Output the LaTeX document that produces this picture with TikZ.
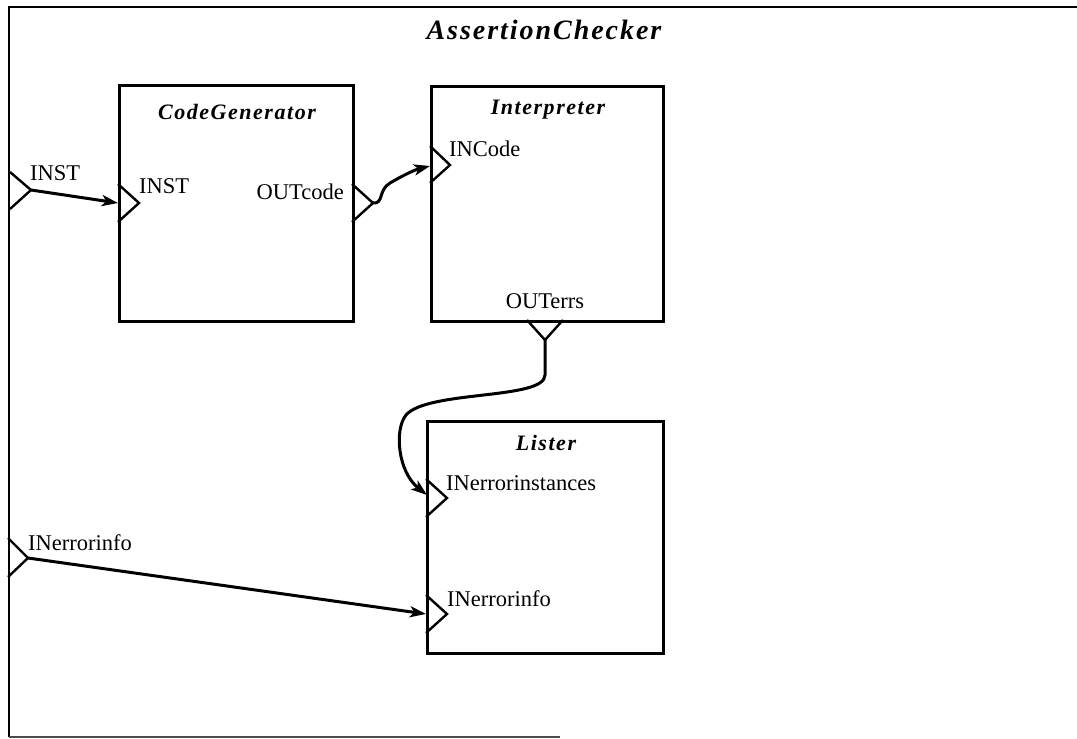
\documentclass[tikz,border=0pt]{standalone}
\usepackage{fontspec}
\setmainfont{Liberation Serif}
\usetikzlibrary{arrows.meta}
\begin{document}
\begin{tikzpicture}[x=1pt,y=-1pt,
  block/.style={draw, line width=2.9pt, inner sep=0pt, anchor=north west},
  port/.style={line width=2.4pt, line join=miter},
  wire/.style={line width=3pt, -{Stealth[length=16pt,width=11pt,inset=4pt]}},
  lbl/.style={font=\fontsize{22.5}{26}\selectfont, inner sep=0pt},
  ttl/.style={font=\fontsize{22}{26}\selectfont\bfseries\itshape\addfontfeature{LetterSpace=7}, inner sep=0pt},
  bigttl/.style={font=\fontsize{28}{32}\selectfont\bfseries\itshape\addfontfeature{LetterSpace=7}, inner sep=0pt}]
\useasboundingbox (0,0) rectangle (1077,739);

% enclosing component frame
\draw[line width=2.9pt] (1080,7) -- (9,7) -- (9,737);
\draw[line width=1.6pt, black!70] (9,737) -- (560,737);
\node[bigttl] (top) at (544,30) {AssertionChecker};

% sub-components
\node[block, minimum width=234pt, minimum height=236pt] (cg) at (118,84) {};
\node[block, minimum width=232pt, minimum height=235pt] (interp) at (430,85) {};
\node[block, minimum width=236pt, minimum height=232pt] (lister) at (426,420) {};

\node[ttl] (cgT) at (237,112) {CodeGenerator};
\node[ttl] (interpT) at (548,110) {Interpreter};
\node[ttl] (listerT) at (546,443) {Lister};

% port apexes and their attachment points
\coordinate (extInst) at (31,190);
\coordinate (cgInst) at (139,203);
\coordinate (cgInstEdge) at (118,203);
\coordinate (cgOut) at (373,203);
\coordinate (inCode) at (450,165);
\coordinate (inCodeEdge) at (430,166);
\coordinate (outErrs) at (545,340);
\coordinate (errInst) at (447,498);
\coordinate (errInstEdge) at (427,495);
\coordinate (extInfo) at (28,558);
\coordinate (errInfo) at (447,614);
\coordinate (errInfoEdge) at (426,614);

% port triangles
\draw[port] (10,172) -- (extInst) -- (10,209);
\draw[port] (118,184) -- (cgInst) -- (118,222);
\draw[port] (352,184) -- (cgOut) -- (352,222);
\draw[port] (430,146) -- (inCode) -- (430,183);
\draw[port] (527,320) -- (outErrs) -- (563,320);
\draw[port] (426,479) -- (errInst) -- (426,517);
\draw[port] (8,538) -- (extInfo) -- (8,577);
\draw[port] (426,595) -- (errInfo) -- (426,633);

% port labels
\node[lbl, anchor=west] (lExtInst) at (30,173) {INST};
\node[lbl, anchor=west] (lCgInst) at (139,186) {INST};
\node[lbl, anchor=east] (lCgOut) at (344,192) {OUTcode};
\node[lbl, anchor=west] (lInCode) at (449,149) {INCode};
\node[lbl] (lOutErrs) at (545,301) {OUTerrs};
\node[lbl, anchor=west] (lErrInst) at (446,483) {INerrorinstances};
\node[lbl, anchor=west] (lExtInfo) at (28,543) {INerrorinfo};
\node[lbl, anchor=west] (lErrInfo) at (447,599) {INerrorinfo};

% connections
\draw[wire] (extInst) -- (cgInstEdge);
\draw[wire] (cgOut) .. controls (384,204) and (378,190) .. (390,183)
  .. controls (402,176) and (414,170) .. (inCodeEdge);
\draw[wire] (outErrs) -- (545,375) .. controls (545,400) and (428,390) .. (406,415)
  .. controls (394,430) and (398,472) .. (errInstEdge);
\draw[wire] (extInfo) -- (errInfoEdge);
\end{tikzpicture}
\end{document}
